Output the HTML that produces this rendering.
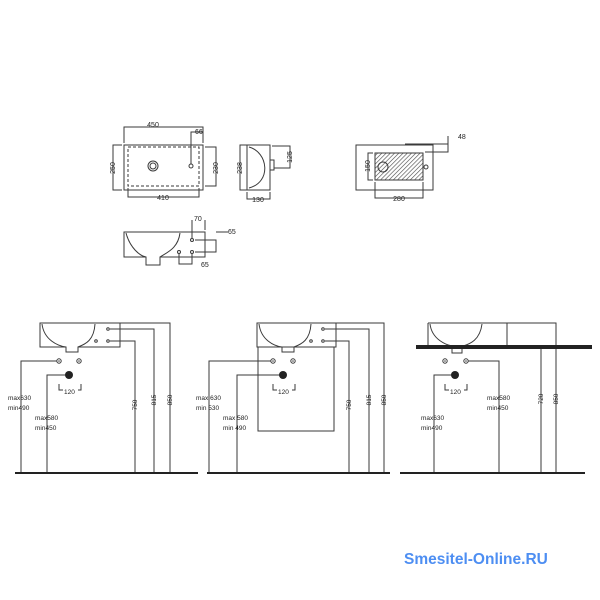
<!DOCTYPE html>
<html><head><meta charset="utf-8"><style>
html,body{margin:0;padding:0;background:#fff}
svg{display:block}
text{font-family:"Liberation Sans",sans-serif;fill:#222}
</style></head><body>
<svg width="600" height="600" viewBox="0 0 600 600" xmlns="http://www.w3.org/2000/svg">
<defs>
<pattern id="h" width="3" height="3" patternUnits="userSpaceOnUse" patternTransform="rotate(45)">
<line x1="0" y1="0" x2="0" y2="3" stroke="#444" stroke-width="1.2"/></pattern>
</defs>
<g fill="none" stroke="#3a3a3a" stroke-width="1">
<rect x="124" y="145" width="79" height="45"/>
<rect x="128" y="147" width="71" height="39" stroke-dasharray="3,2"/>
<circle cx="153" cy="166" r="5"/><circle cx="153" cy="166" r="3"/>
<circle cx="191" cy="166" r="2"/>
<path d="M124 143V127H203V143M191 164V132H203V127M122 145H113V190H122M205 147H216V186H205M128 188V197H199V188"/>
<path d="M247 145H270V190H247Z"/>
<path d="M249 147C268 152 272 182 249 188"/>
<rect x="270" y="160" width="4" height="10"/>
<path d="M247 145H240V190H247M272 146H290V168H274M247 192V199H270V192"/>
<rect x="356" y="145" width="77" height="45"/>
<rect x="375" y="153" width="48" height="27" fill="url(#h)"/>
<circle cx="383" cy="167" r="5"/><circle cx="426" cy="167" r="2"/>
<path d="M425 152H448V136M405 144H448M373 153H368V180H373M375 182V198H423V182"/>
<path d="M124 232H205V257H160V265H146V257H124Z"/>
<path d="M126 233C130 248 140 256 146 257M160 257C168 252 178 248 180 233"/>
<circle cx="192" cy="240" r="1.5"/><circle cx="192" cy="252" r="1.5"/><circle cx="179" cy="252" r="1.5"/>
<path d="M192 238V220M205 230V220M195 240H216V252H195M179 254V264H192V254M216 232H228"/>
</g>
<g font-size="7">
<text x="153" y="127" text-anchor="middle">450</text>
<text x="195" y="134">66</text>
<text x="163" y="200" text-anchor="middle">410</text>
<text x="113" y="168" transform="rotate(-90 113 168)" text-anchor="middle" dy="2">250</text>
<text x="216" y="168" transform="rotate(-90 216 168)" text-anchor="middle" dy="2">230</text>
<text x="240" y="168" transform="rotate(-90 240 168)" text-anchor="middle" dy="2">238</text>
<text x="290" y="157" transform="rotate(-90 290 157)" text-anchor="middle" dy="2">125</text>
<text x="258" y="202" text-anchor="middle">130</text>
<text x="458" y="139">48</text>
<text x="368" y="166" transform="rotate(-90 368 166)" text-anchor="middle" dy="2">150</text>
<text x="399" y="201" text-anchor="middle">280</text>
<text x="194" y="221">70</text>
<text x="228" y="234">65</text>
<text x="201" y="267">65</text>
</g>
<g fill="none" stroke="#3a3a3a" stroke-width="1">
<path d="M40 323H120V347H78V352H66V347H40Z"/>
<path d="M42 324C44 340 58 346 66 347M78 347C86 344 94 340 95 324"/>
<circle cx="108" cy="329" r="1.3"/><circle cx="108" cy="341" r="1.3"/><circle cx="96" cy="341" r="1.3"/>
<path d="M110 329H154V473M110 341H135V473M120 323H170V473"/>
<circle cx="59" cy="361" r="2.2"/><circle cx="79" cy="361" r="2.2"/>
<path d="M57 361H21V473M66 375H47V473M59 384V390H63M78 390H81V384"/>
<path d="M257 323H336V347H294V352H282V347H257Z"/>
<path d="M259 324C261 340 274 346 282 347M294 347C302 344 310 340 311 324"/>
<rect x="258" y="347" width="76" height="84"/>
<circle cx="323" cy="329" r="1.3"/><circle cx="323" cy="341" r="1.3"/><circle cx="311" cy="341" r="1.3"/>
<path d="M325 329H369V473M325 341H349V473M336 323H384V473"/>
<circle cx="273" cy="361" r="2.2"/><circle cx="293" cy="361" r="2.2"/>
<path d="M271 361H209V473M283 375H237V473M273 384V390H277M292 390H295V384"/>
<path d="M428 323H507V346M428 323V346"/>
<path d="M430 324C432 340 447 345 452 346M463 346C470 344 480 340 482 324"/>
<rect x="452" y="348" width="10" height="5"/>
<circle cx="445" cy="361" r="2.2"/><circle cx="466" cy="361" r="2.2"/>
<path d="M468 361H499V473M455 375H434V473M445 384V390H449M464 390H467V384"/>
<path d="M507 323H556V473M541 349V473"/>
</g>
<g fill="#222">
<circle cx="69" cy="375" r="4"/><circle cx="283" cy="375" r="4"/><circle cx="455" cy="375" r="4"/>
<rect x="416" y="345" width="176" height="4"/>
<rect x="15" y="472" width="183" height="2"/>
<rect x="207" y="472" width="183" height="2"/>
<rect x="400" y="472" width="185" height="2"/>
</g>
<g fill="#444">
<circle cx="59" cy="361" r="0.8"/><circle cx="79" cy="361" r="0.8"/><circle cx="273" cy="361" r="0.8"/><circle cx="293" cy="361" r="0.8"/><circle cx="445" cy="361" r="0.8"/><circle cx="466" cy="361" r="0.8"/>
</g>
<g font-size="6.5">
<text x="64" y="394">120</text><text x="278" y="394">120</text><text x="450" y="394">120</text>
<text x="8" y="400">max630</text><text x="8" y="410">min490</text>
<text x="35" y="420">max580</text><text x="35" y="430">min450</text>
<text x="196" y="400">max 630</text><text x="196" y="410">min 530</text>
<text x="223" y="420">max 580</text><text x="223" y="430">min 490</text>
<text x="487" y="400">max580</text><text x="487" y="410">min450</text>
<text x="421" y="420">max630</text><text x="421" y="430">min490</text>
<g text-anchor="middle">
<text transform="translate(135 405) rotate(-90)" dy="2">750</text>
<text transform="translate(154 400) rotate(-90)" dy="2">815</text>
<text transform="translate(170 400) rotate(-90)" dy="2">850</text>
<text transform="translate(349 405) rotate(-90)" dy="2">750</text>
<text transform="translate(369 400) rotate(-90)" dy="2">815</text>
<text transform="translate(384 400) rotate(-90)" dy="2">850</text>
<text transform="translate(541 399) rotate(-90)" dy="2">720</text>
<text transform="translate(556 399) rotate(-90)" dy="2">850</text>
</g>
</g>
<text x="404" y="564" font-size="15.5" font-weight="bold" style="fill:#4d8ef2">Smesitel-Online.RU</text>
</svg>
</body></html>
